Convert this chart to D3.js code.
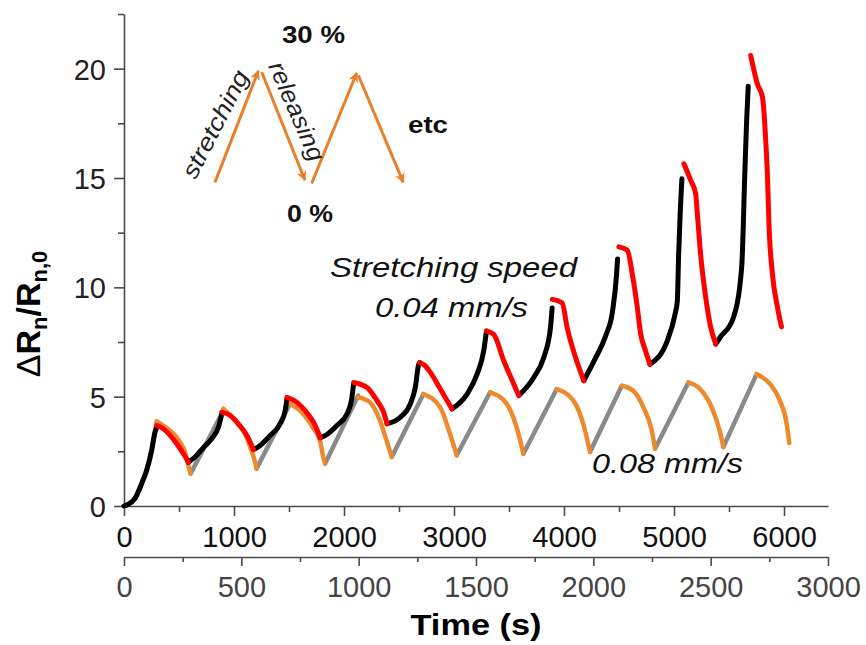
<!DOCTYPE html>
<html><head><meta charset="utf-8">
<script src="https://cdn.jsdelivr.net/npm/d3@7"></script>
<style>
body{margin:0;background:#fff}
svg{display:block}
text{font-family:"Liberation Sans",Arial,sans-serif}
</style>
</head><body>
<svg id="chart" width="866" height="645"></svg>
<script>
// ---- tick labels ----
const topTicks = [0,1000,2000,3000,4000,5000,6000];
const topMinor = [500,1500,2500,3500,4500,5500];
const bottomTicks = [0,500,1000,1500,2000,2500,3000];
const bottomMinor = [250,750,1250,1750,2250,2750];
const yTicks = [0,5,10,15,20];
const yMinor = [2.5,7.5,12.5,17.5,22.5];

// ---- 0.04 mm/s (top time axis, s) : [time, ΔR/R0] ----
const slowStretching = [
  [[0,0],[25,0.05],[100,0.35],[161,1.03],[207,1.64],[252,2.55],[282,3.38],[298,3.6]],
  [[585,2.01],[646,2.24],[722,2.67],[798,3.08],[858,3.6],[889,4.21]],
  [[1177,2.58],[1238,2.77],[1329,3.23],[1420,3.76],[1465,4.36],[1481,4.89]],
  [[1784,3.12],[1845,3.27],[1936,3.68],[2027,4.21],[2072,4.97],[2087,5.58]],
  [[2391,3.76],[2512,4.06],[2603,4.67],[2648,5.42],[2679,6.48],[2688,6.56]],
  [[2982,4.44],[3119,5.12],[3210,6.03],[3270,7.09],[3295,8.0]],
  [[3589,5.05],[3725,5.88],[3816,6.79],[3877,8.15],[3892,9.06]],
  [[4180,5.73],[4287,6.77],[4378,7.77],[4441,8.9],[4478,10.6],[4487,11.3]],
  [[4781,6.48],[4939,7.55],[5009,8.76],[5030,9.36],[5042,11.48],[5058,13.6],[5072,14.97]],
  [[5379,7.4],[5418,7.7],[5539,8.6],[5615,10.9],[5645,15.4],[5661,17.7],[5675,19.2]]
];
const slowReleasing = [
  [[298,3.68],[358,3.53],[419,3.23],[480,2.85],[540,2.39],[585,2.01]],
  [[889,4.29],[965,4.14],[1040,3.76],[1117,3.23],[1177,2.58]],
  [[1481,4.97],[1572,4.74],[1647,4.36],[1723,3.83],[1784,3.12]],
  [[2087,5.65],[2209,5.42],[2300,4.82],[2360,4.29],[2391,3.76]],
  [[2688,6.56],[2739,6.41],[2785,6.11],[2876,5.35],[2937,4.82],[2982,4.44]],
  [[3295,8.0],[3361,7.85],[3452,6.64],[3543,5.58],[3589,5.05]],
  [[3895,9.45],[3983,9.29],[4029,8.15],[4105,6.79],[4180,5.73]],
  [[4499,11.85],[4575,11.7],[4621,10.6],[4666,9.1],[4696,7.9],[4741,7.1],[4781,6.48]],
  [[5090,15.65],[5151,14.9],[5197,14.28],[5212,13.37],[5242,11.5],[5288,9.55],[5333,8.19],[5379,7.42]],
  [[5697,20.6],[5758,19.3],[5804,18.7],[5819,17.95],[5834,16.7],[5849,15.2],[5864,12.8],[5895,10.6],[5940,9.1],[5977,8.2]]
];

// ---- 0.08 mm/s (bottom time axis, s) ----
const fastStretching = [
  [[0,0],[12,0.05],[47,0.35],[75,1.03],[97,1.7],[118,2.6],[132,3.4],[139,3.83]],
  [[284,1.48],[423,4.36]],
  [[565,1.71],[707,4.67]],
  [[857,1.94],[998,5.05]],
  [[1141,2.24],[1276,5.12]],
  [[1418,2.32],[1560,5.2]],
  [[1702,2.39],[1844,5.35]],
  [[1986,2.47],[2121,5.5]],
  [[2263,2.62],[2405,5.65]],
  [[2554,2.7],[2696,6.03]]
];
const fastReleasing = [
  [[139,3.88],[167,3.68],[203,3.38],[239,2.92],[260,2.47],[274,1.86],[284,1.48]],
  [[423,4.45],[480,3.83],[516,3.3],[537,2.7],[554,2.18],[565,1.71]],
  [[707,4.67],[764,4.21],[807,3.55],[835,3.0],[849,2.24],[857,1.94]],
  [[998,4.97],[1048,4.74],[1091,3.9],[1116,3.09],[1141,2.24]],
  [[1276,5.12],[1347,4.52],[1389,3.3],[1418,2.32]],
  [[1560,5.2],[1631,4.67],[1673,3.6],[1702,2.39]],
  [[1844,5.35],[1915,4.82],[1957,3.76],[1986,2.47]],
  [[2121,5.5],[2170,5.27],[2213,4.52],[2249,3.45],[2263,2.62]],
  [[2405,5.65],[2455,5.35],[2504,4.52],[2540,3.38],[2554,2.7]],
  [[2696,6.03],[2753,5.58],[2795,4.82],[2824,3.76],[2835,2.88]]
];

// ---- inset strain schematic (top axis s, ΔR/R0 units) ----
const insetArrows = [
  [[827,14.8],[1221,19.9]],
  [[1252,19.85],[1645,14.9]],
  [[1706,14.75],[2115,19.8]],
  [[2130,19.7],[2539,14.8]]
];

const svg = d3.select("#chart");
const xTop = d3.scaleLinear().domain([0,6400]).range([124,828]);
const xBot = d3.scaleLinear().domain([0,3000]).range([124,828]);
const y = d3.scaleLinear().domain([0,22.5]).range([506,14]);
const fmt = d3.format("d");

const axisColor = "#4a4a4a";
function styleAxis(g){
  g.selectAll(".domain").attr("stroke",axisColor).attr("stroke-width",1.6);
  g.selectAll(".tick line").attr("stroke",axisColor).attr("stroke-width",1.6);
}

// Y axis
const gy = svg.append("g").attr("transform","translate(124,0)");
gy.call(d3.axisLeft(y).tickValues(yTicks).tickFormat(fmt).tickSize(10).tickSizeOuter(0));
gy.append("g").call(d3.axisLeft(y).tickValues(yMinor).tickSize(6).tickSizeOuter(0).tickFormat(""))
  .select(".domain").remove();
styleAxis(gy);
gy.selectAll(".tick text").attr("x",-18).attr("dy","0.36em")
  .attr("font-size",29).attr("fill","#222").attr("font-family","Liberation Sans, Arial, sans-serif");

// Top time axis (0.04 mm/s)
const gt = svg.append("g").attr("transform","translate(0,506)");
gt.call(d3.axisBottom(xTop).tickValues(topTicks).tickFormat(fmt).tickSize(10).tickSizeOuter(0));
gt.append("g").call(d3.axisBottom(xTop).tickValues(topMinor).tickSize(6).tickSizeOuter(0).tickFormat(""))
  .select(".domain").remove();
styleAxis(gt);
gt.selectAll(".tick text").attr("y",41).attr("dy",0)
  .attr("font-size",29).attr("fill","#111").attr("font-family","Liberation Sans, Arial, sans-serif");

// Bottom time axis (0.08 mm/s)
const gb = svg.append("g").attr("transform","translate(0,557)");
gb.call(d3.axisBottom(xBot).tickValues(bottomTicks).tickFormat(fmt).tickSize(9).tickSizeOuter(0));
gb.append("g").call(d3.axisBottom(xBot).tickValues(bottomMinor).tickSize(5).tickSizeOuter(0).tickFormat(""))
  .select(".domain").remove();
styleAxis(gb);
gb.selectAll(".tick text").attr("y",40).attr("dy",0)
  .attr("font-size",29).attr("fill","#444").attr("font-family","Liberation Sans, Arial, sans-serif");

// Data lines
const lineTop = d3.line().x(d=>xTop(d[0])).y(d=>y(d[1])).curve(d3.curveMonotoneX);
const lineBot = d3.line().x(d=>xBot(d[0])).y(d=>y(d[1])).curve(d3.curveMonotoneX);

function drawSegs(data, gen, color, w){
  svg.append("g").selectAll("path").data(data).join("path")
    .attr("d",gen).attr("fill","none").attr("stroke",color)
    .attr("stroke-width",w).attr("stroke-linecap","round").attr("stroke-linejoin","round");
}
drawSegs(fastStretching, lineBot, "#8a8a8a", 4.5);
drawSegs(fastReleasing, lineBot, "#ee8a2e", 4.5);
drawSegs(slowStretching, lineTop, "#000000", 5);
drawSegs(slowReleasing, lineTop, "#ff0000", 5);

// Inset schematic
const orange = "#e8802a";
svg.append("defs").append("marker").attr("id","ah")
  .attr("viewBox","0 0 10 10").attr("refX",9).attr("refY",5)
  .attr("markerUnits","userSpaceOnUse").attr("markerWidth",11).attr("markerHeight",10)
  .attr("orient","auto")
  .append("path").attr("d","M0,0 L10,5 L0,10 L3,5 z").attr("fill",orange);
svg.append("g").selectAll("line").data(insetArrows).join("line")
  .attr("x1",d=>xTop(d[0][0])).attr("y1",d=>y(d[0][1]))
  .attr("x2",d=>xTop(d[1][0])).attr("y2",d=>y(d[1][1]))
  .attr("stroke",orange).attr("stroke-width",3).attr("marker-end","url(#ah)");

function label(txt, x, yy, opts){
  const t = svg.append("text").attr("x",x).attr("y",yy).text(txt)
    .attr("font-size",opts.size).attr("fill",opts.fill||"#111");
  if(opts.bold) t.attr("font-weight","bold");
  if(opts.italic) t.attr("font-style","italic");
  if(opts.len) t.attr("textLength",opts.len).attr("lengthAdjust","spacingAndGlyphs");
  if(opts.anchor) t.attr("text-anchor",opts.anchor);
  if(opts.rot!==undefined) t.attr("transform",`rotate(${opts.rot},${x},${yy})`).attr("dominant-baseline","central");
  return t;
}
label("30 %", 282, 43, {size:24, bold:true, len:63});
label("0 %", 287, 222, {size:24, bold:true, len:46});
label("etc", 408, 133, {size:24, bold:true, len:40});
label("stretching", 215, 124, {size:24, italic:true, len:118, anchor:"middle", rot:-62.8, fill:"#222"});
label("releasing", 297, 111, {size:24, italic:true, len:106, anchor:"middle", rot:66.3, fill:"#222"});
label("Stretching speed", 330, 277, {size:28, italic:true, len:247});
label("0.04 mm/s", 375, 317, {size:28, italic:true, len:153});
label("0.08 mm/s", 592, 473, {size:28, italic:true, len:151});

// Axis titles
svg.append("text").attr("x",476).attr("y",635).attr("text-anchor","middle")
  .attr("font-size",30).attr("font-weight","bold").attr("fill","#000")
  .attr("textLength",131).attr("lengthAdjust","spacingAndGlyphs").text("Time (s)");

const yl = svg.append("text").attr("transform","translate(40,314) rotate(-90)")
  .attr("text-anchor","middle").attr("font-size",34).attr("font-weight","bold").attr("fill","#000");
yl.append("tspan").attr("font-weight","normal").text("Δ");
yl.append("tspan").text("R");
yl.append("tspan").attr("font-size",22).attr("dy",7).text("n");
yl.append("tspan").attr("dy",-7).text("/R");
yl.append("tspan").attr("font-size",22).attr("dy",7).text("n,0");
</script>
</body></html>
